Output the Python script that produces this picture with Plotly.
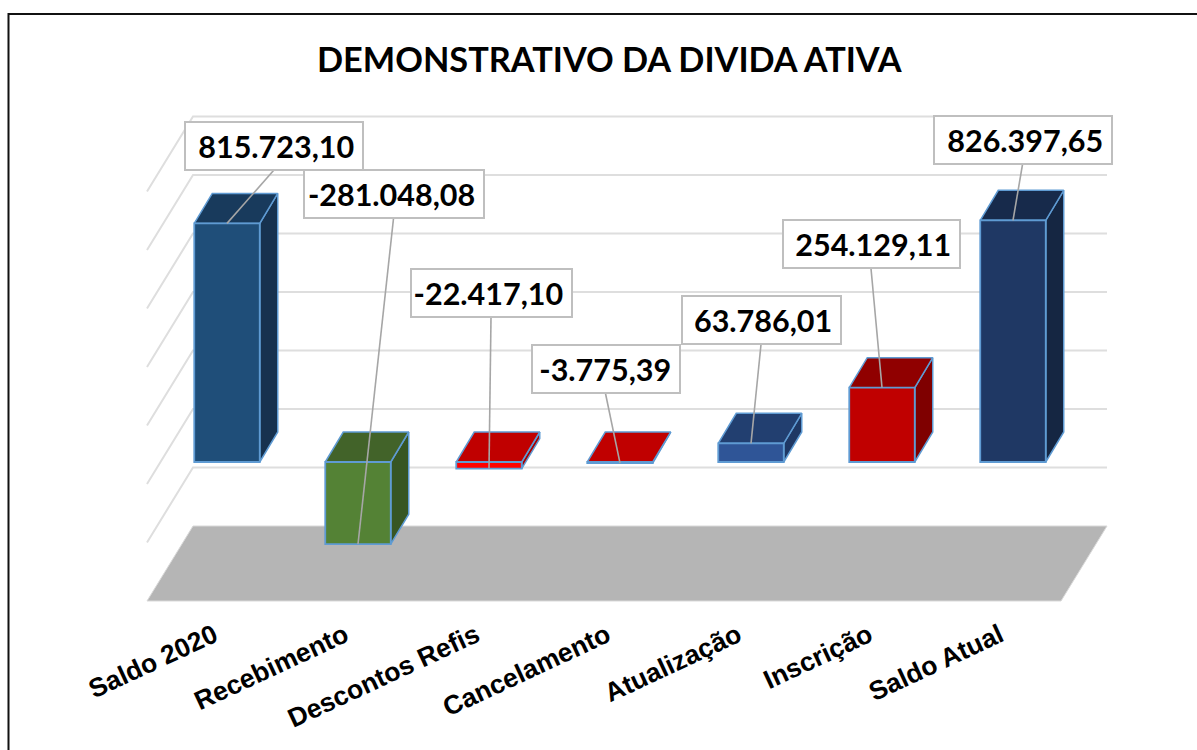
import plotly.graph_objects as go

categories = ["Saldo 2020", "Recebimento", "Descontos Refis", "Cancelamento", "Atualização", "Inscrição", "Saldo Atual"]
values = [815723.10, -281048.08, -22417.10, -3775.39, 63786.01, 254129.11, 826397.65]
value_labels = ["815.723,10", "-281.048,08", "-22.417,10", "-3.775,39", "63.786,01", "254.129,11", "826.397,65"]
grid_values = [-200000, 0, 200000, 400000, 600000, 800000, 1000000]
floor_value = -400000
title_text = "DEMONSTRATIVO DA DIVIDA ATIVA"

front_colors = ["#1f4e79", "#548235", "#ff0000", "#c00000", "#2f5597", "#c00000", "#1f3864"]
top_colors = ["#183a5c", "#426329", "#c00000", "#c00000", "#223f70", "#900000", "#172a4b"]
side_colors = ["#17324f", "#375623", "#a80000", "#a80000", "#1f3864", "#7f0000", "#152642"]
edge = "#5f9bd3"

W, H = 1197, 750
X0, DX = 227.0, 131.0
Y0, K = 462.0, 58.5 / 200000
PLOT_BOTTOM = 614
xr = [-X0 / DX, (W - X0) / DX]
yr = [-(PLOT_BOTTOM - Y0) / K, Y0 / K]
BAR_W = 65.5 / DX
DEPTH_X, DEPTH_Y = 18 / DX, 30 / K
WALL_SHIFT = 53 / K
BX_L, BX_R = (193 - X0) / DX, (1107 - X0) / DX
SIDE_DX, SIDE_DY = -46 / DX, -75 / K

# label boxes, pixel centres and sizes
boxes = [(273.5, 145.5, 180), (393.5, 193.5, 182), (491, 292.5, 163), (605.5, 368.5, 150), (761, 319.5, 161), (871, 243.5, 179), (1022.5, 139.5, 180)]
BOX_H = 50

def px_x(p):
    return (p - X0) / DX

def px_y(p):
    return (Y0 - p) / K

fig = go.Figure()

# floor
fx = [BX_L, BX_R, BX_R + SIDE_DX, BX_L + SIDE_DX, BX_L]
f = floor_value + WALL_SHIFT
fy = [f, f, f + SIDE_DY, f + SIDE_DY, f]
fig.add_trace(go.Scatter(x=fx, y=fy, mode="lines", fill="toself", fillcolor="#b5b5b5",
                         line=dict(color="#d9d9d9", width=1), hoverinfo="skip", showlegend=False, zorder=0))

# walls
gx, gy = [], []
for g in grid_values:
    v = g + WALL_SHIFT
    gx += [BX_L + SIDE_DX, BX_L, BX_R, None]
    gy += [v + SIDE_DY, v, v, None]
fig.add_trace(go.Scatter(x=gx, y=gy, mode="lines", line=dict(color="#dedede", width=2),
                         hoverinfo="skip", showlegend=False, zorder=0))

# bars: front faces
for i, v in enumerate(values):
    fig.add_trace(go.Bar(x=[i], y=[v], width=BAR_W, marker=dict(color=front_colors[i], line=dict(color=edge, width=1.8)),
                         name=categories[i], showlegend=False, zorder=2))

# bars: top and side faces
for i, v in enumerate(values):
    t, b = max(v, 0), min(v, 0)
    l, r = i - BAR_W / 2, i + BAR_W / 2
    fig.add_trace(go.Scatter(x=[r, r + DEPTH_X, r + DEPTH_X, r, r], y=[b, b + DEPTH_Y, t + DEPTH_Y, t, b],
                             mode="lines", fill="toself", fillcolor=side_colors[i], line=dict(color=edge, width=1.5),
                             hoverinfo="skip", showlegend=False, zorder=1))
    fig.add_trace(go.Scatter(x=[l, r, r + DEPTH_X, l + DEPTH_X, l], y=[t, t, t + DEPTH_Y, t + DEPTH_Y, t],
                             mode="lines", fill="toself", fillcolor=top_colors[i], line=dict(color=edge, width=1.5),
                             hoverinfo="skip", showlegend=False, zorder=1))

# leader lines + labels
for i, v in enumerate(values):
    cx, cy, w = boxes[i]
    yb = cy + BOX_H / 2
    fig.add_trace(go.Scatter(x=[px_x(cx), i], y=[px_y(yb), v], mode="lines", line=dict(color="#a6a6a6", width=1.6),
                             hoverinfo="skip", showlegend=False, zorder=3))
    fig.add_annotation(x=px_x(cx), y=px_y(cy), xref="x", yref="y", text="<b>%s</b>\u00a0" % value_labels[i], showarrow=False,
                       width=w - 4, height=BOX_H - 4, bgcolor="white", bordercolor="#bfbfbf", borderwidth=2, borderpad=0,
                       font=dict(family="Lato", size=30.5, color="black"), align="right", valign="middle")

fig.add_annotation(x=609.5 / W, y=px_y(58), xref="paper", yref="y", text="<b>%s</b>" % title_text, showarrow=False,
                   font=dict(family="Lato", size=34.3, color="black"))

fy_top = 1 - 14 / PLOT_BOTTOM
fy_bot = 1 - H / PLOT_BOTTOM
fig.add_shape(type="path", xref="paper", yref="paper", layer="above",
              path="M %f %f L %f %f L %f %f" % (8.5 / W, fy_bot, 8.5 / W, fy_top, 1, fy_top),
              line=dict(color="#111111", width=2))

fig.update_layout(
    width=W, height=H, margin=dict(l=0, r=0, t=0, b=H - PLOT_BOTTOM),
    paper_bgcolor="white", plot_bgcolor="white", showlegend=False, barmode="overlay",
    xaxis=dict(range=xr, tickmode="array", tickvals=[i - 0.1 for i in range(7)], ticktext=categories, tickangle=-25,
               showgrid=False, zeroline=False, showline=False, ticks="", ticklen=0,
               tickfont=dict(family="Liberation Sans", size=26.5, color="black", weight="bold")),
    yaxis=dict(range=yr, showgrid=False, zeroline=False, showline=False, showticklabels=False, ticks=""),
)
fig.write_html("out.html", post_script="document.body.style.margin='0';", config={"displayModeBar": False})
